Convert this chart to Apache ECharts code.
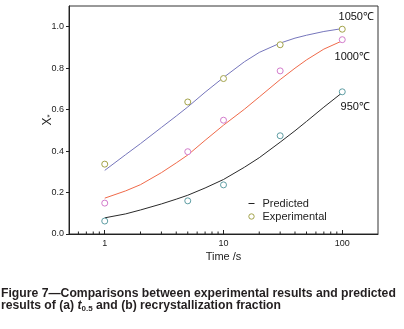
<!DOCTYPE html>
<html>
<head>
<meta charset="utf-8">
<script src="https://cdn.jsdelivr.net/npm/echarts@6/dist/echarts.min.js"></script>
<style>
html,body{margin:0;padding:0;background:#fff;}
#chart{width:404px;height:329px;}
</style>
</head>
<body>
<div id="chart"></div>
<script>
// ---- data ----
const temperatures = ['1050℃', '1000℃', '950℃'];
const curveTimes = [1, 1.5, 2, 3, 4, 5, 7, 10, 15, 20, 30, 40, 50, 70, 100];
const pred1050 = [0.307, 0.383, 0.436, 0.514, 0.569, 0.613, 0.684, 0.755, 0.831, 0.876, 0.921, 0.945, 0.959, 0.977, 0.991];
const pred1000 = [0.173, 0.208, 0.238, 0.296, 0.343, 0.381, 0.452, 0.525, 0.602, 0.661, 0.745, 0.80, 0.84, 0.892, 0.932];
const pred950  = [0.078, 0.097, 0.116, 0.145, 0.168, 0.187, 0.222, 0.263, 0.322, 0.368, 0.443, 0.498, 0.543, 0.612, 0.682];
const expTimes = [1, 5, 10, 30, 100];
const exp1050 = [0.337, 0.637, 0.75, 0.913, 0.988];
const exp1000 = [0.149, 0.397, 0.549, 0.787, 0.9375];
const exp950  = [0.0625, 0.16, 0.237, 0.474, 0.686];
const xTickLabels = [1, 10, 100];
const xMinorTicks = [0.6, 0.7, 0.8, 0.9, 2, 3, 4, 5, 6, 7, 8, 9, 20, 30, 40, 50, 60, 70, 80, 90];
const yTicks = [0, 0.2, 0.4, 0.6, 0.8, 1.0];
const legendNames = ['Predicted', 'Experimental'];
const captionLine1 = 'Figure 7\u2014Comparisons between experimental results and predicted';
const captionLine2 = ['results of (a) ', 't', '0.5', ' and (b) recrystallization fraction'];

const pair = (xs, ys) => xs.map((x, i) => [x, ys[i]]);
const FONT = 'Liberation Sans, Arial, Helvetica, sans-serif';

const lineColors = {'950℃': '#2a2a2a', '1000℃': '#f06a4a', '1050℃': '#7676bc'};
const symColors = {'950℃': '#5f9ea4', '1000℃': '#d37ccc', '1050℃': '#a3a34a'};
const labelOffsets = {'1050℃': [14, -12], '1000℃': [10, 17], '950℃': [13, 15]};

function lineSeries(temp, ys) {
  return {
    type: 'line', name: legendNames[0], data: pair(curveTimes, ys),
    smooth: false, symbol: 'none', silent: true,
    lineStyle: {color: lineColors[temp], width: 1, join: 'round'},
    itemStyle: {color: lineColors[temp]},
    z: 2
  };
}
function expSeries(temp, ys) {
  const d = pair(expTimes, ys).map((p, i, arr) => {
    if (i === arr.length - 1) {
      return {value: p, label: {show: true, formatter: temp, position: 'inside',
        offset: labelOffsets[temp], color: '#111', fontSize: 11, fontFamily: FONT,
        textBorderWidth: 0, textShadowBlur: 0}};
    }
    return {value: p};
  });
  return {
    type: 'scatter', name: legendNames[1], data: d,
    symbol: 'circle', symbolSize: 6, silent: true,
    itemStyle: {color: '#ffffff', borderColor: symColors[temp], borderWidth: 1, opacity: 1},
    z: 3
  };
}

const chart = echarts.init(document.getElementById('chart'), null, {renderer: 'canvas'});
chart.setOption({
  animation: false,
  backgroundColor: '#fff',
  grid: {left: 69, right: 26, top: 6, bottom: 95, show: true, borderColor: '#333', borderWidth: 1, backgroundColor: 'transparent'},
  xAxis: {
    type: 'log', logBase: 10, min: 0.5, max: 200,
    name: 'Time /s', nameLocation: 'middle', nameGap: 17, nameMoveOverlap: false,
    nameTextStyle: {fontSize: 11, color: '#222', fontFamily: FONT},
    axisLine: {show: true, lineStyle: {color: '#222', width: 1}},
    axisTick: {show: true, inside: true, length: 4, lineStyle: {color: '#222'}},
    axisLabel: {fontSize: 9, color: '#222', fontFamily: FONT, margin: 5,
      showMinLabel: false, showMaxLabel: false,
      formatter: v => xTickLabels.some(t => Math.abs(t - v) < 1e-6) ? String(Math.round(v)) : ''},
    splitLine: {show: false}
  },
  yAxis: {
    type: 'value', min: 0, max: 1.1, interval: 0.2,
    name: '{x|X}{s|*}', nameLocation: 'middle', nameGap: 15, nameRotate: 90, nameMoveOverlap: false,
    nameTextStyle: {rich: {
      x: {fontSize: 12, color: '#222', fontFamily: FONT},
      s: {fontSize: 8, color: '#222', fontFamily: FONT, verticalAlign: 'bottom', padding: [4, 0, 0, 0]}
    }},
    axisLine: {show: true, lineStyle: {color: '#222', width: 1}},
    axisTick: {show: true, inside: false, length: 3, lineStyle: {color: '#222'}},
    axisLabel: {fontSize: 9, color: '#222', fontFamily: FONT, margin: 5, showMaxLabel: false,
      formatter: v => yTicks.some(t => Math.abs(t - v) < 1e-6) ? v.toFixed(1) : ''},
    splitLine: {show: false}
  },
  legend: {
    orient: 'vertical', left: 242, top: 193, itemGap: 2, itemWidth: 8, itemHeight: 8,
    selectedMode: false,
    textStyle: {fontSize: 11, color: '#222', fontFamily: FONT, padding: [0, 0, 0, 2]},
    data: [
      {name: legendNames[0], icon: 'path://M0,0M1,3.5L7,3.5L7,4.5L1,4.5ZM8,8', itemStyle: {color: '#222'}},
      {name: legendNames[1], icon: 'path://M0,0M4,1.3A2.7,2.7,0,1,1,3.99,1.3ZM8,8',
        itemStyle: {color: 'rgba(0,0,0,0)', borderColor: symColors['1050℃'], borderWidth: 1}}
    ]
  },
  graphic: [
    {type: 'text', left: 1, top: 288, style: {text: captionLine1, font: 'bold 12.2px ' + FONT, fill: '#231f20'}},
    {type: 'text', left: 1, top: 300, style: {
      text: '{a|' + captionLine2[0] + '}{t|' + captionLine2[1] + '}{s|' + captionLine2[2] + '}{a|' + captionLine2[3] + '}',
      rich: {
        a: {font: 'bold 12.2px ' + FONT, fill: '#231f20'},
        t: {font: 'italic bold 12.2px ' + FONT, fill: '#231f20'},
        s: {font: 'bold 8px ' + FONT, fill: '#231f20', verticalAlign: 'bottom', padding: [5, 0, 0, 0]}
      }
    }}
  ],
  series: [
    lineSeries('950℃', pred950),
    lineSeries('1000℃', pred1000),
    lineSeries('1050℃', pred1050),
    expSeries('1050℃', exp1050),
    expSeries('1000℃', exp1000),
    expSeries('950℃', exp950),
    {
      type: 'custom', name: 'minorTicks', silent: true, z: 5,
      data: xMinorTicks.map(v => [v, 0]),
      encode: {x: 0, y: 1},
      renderItem: (params, api) => {
        const p = api.coord([api.value(0), 0]);
        return {type: 'line', shape: {x1: p[0], y1: p[1], x2: p[0], y2: p[1] - 2.5},
          style: {stroke: '#222', lineWidth: 1}};
      }
    }
  ]
});
</script>
</body>
</html>
